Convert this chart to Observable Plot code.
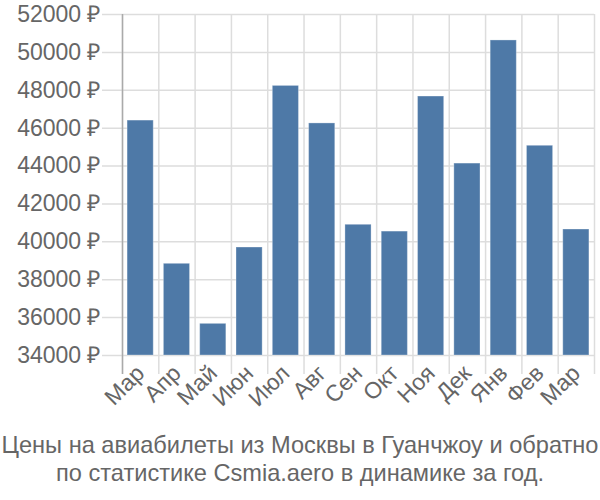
<!DOCTYPE html>
<html>
<head>
<meta charset="utf-8">
<script src="https://cdn.jsdelivr.net/npm/d3@7"></script>
<script src="https://cdn.jsdelivr.net/npm/@observablehq/plot@0.6"></script>
<style>
  html, body { margin: 0; padding: 0; background: #fff; }
  #chart { width: 600px; height: 430px; }
  #chart svg text { font-size: 23px !important; fill: #666 !important; font-family: "Liberation Sans", Arial, sans-serif !important; }
  .caption { width: 600px; text-align: center; font-family: "Liberation Sans", Arial, sans-serif; font-size: 23.6px; line-height: 28px; color: #666; white-space: nowrap; margin-top: 1px; }
</style>
</head>
<body>
<div id="chart"></div>
<script>
const months = ["Мар","Апр","Май","Июн","Июл","Авг","Сен","Окт","Ноя","Дек","Янв","Фев","Мар"];
const prices = [46400, 38840, 35670, 39700, 48230, 46250, 40900, 40540, 47670, 44130, 50630, 45070, 40650];
const yTicks = [34000, 36000, 38000, 40000, 42000, 44000, 46000, 48000, 50000, 52000];
const captionLines = ["Цены на авиабилеты из Москвы в Гуанчжоу и обратно", "по статистике Csmia.aero в динамике за год."];

const data = prices.map((p, i) => ({i, month: months[i], price: p}));
const idx = data.map(d => d.i);

const W = 600, H = 430, mL = 122, mR = 6, mT = 14, mB = 75;
const step = (W - mL - mR) / months.length;
const grid = "#dddddd";

const chart = Plot.plot({
  width: W, height: H,
  marginLeft: mL, marginRight: mR, marginTop: mT, marginBottom: mB,
  style: {fontFamily: "'Liberation Sans', Arial, sans-serif", fontSize: "23px", color: "#666", background: "#fff", overflow: "visible"},
  x: {type: "band", domain: idx, paddingInner: 0.28, paddingOuter: 0.14, round: false, label: null, axis: null},
  y: {domain: [34000, 52000], label: null, axis: null},
  marks: [
    Plot.ruleY(yTicks, {stroke: grid, strokeWidth: 1.5, insetLeft: -20}),
    Plot.ruleX(idx, {x: d => d, dx: -step / 2, stroke: grid, strokeWidth: 1.5, insetBottom: -19}),
    Plot.ruleX(idx.slice(-1), {x: d => d, dx: step / 2, stroke: grid, strokeWidth: 1.5, insetBottom: -19}),
    Plot.ruleX(idx.slice(0, 1), {x: d => d, dx: -step / 2, stroke: "#aaa", strokeWidth: 1.5, insetBottom: -19}),
    Plot.barY(data, {x: "i", y1: 34000, y2: "price", fill: "#4e79a7", stroke: "#fff", strokeOpacity: 0.3, strokeWidth: 1}),
    Plot.axisY(yTicks, {tickSize: 0, tickPadding: 22, tickFormat: d => d + " ₽", fontSize: 23, fill: "#666"}),
    Plot.axisX(idx, {tickSize: 0, tickPadding: 14, tickRotate: -45, tickFormat: i => months[i], fontSize: 23, fill: "#666"})
  ]
});
document.getElementById("chart").appendChild(chart);
const cap = document.createElement("div");
cap.className = "caption";
captionLines.forEach(t => { const d = document.createElement("div"); d.textContent = t; cap.appendChild(d); });
document.body.appendChild(cap);
</script>
</body>
</html>
